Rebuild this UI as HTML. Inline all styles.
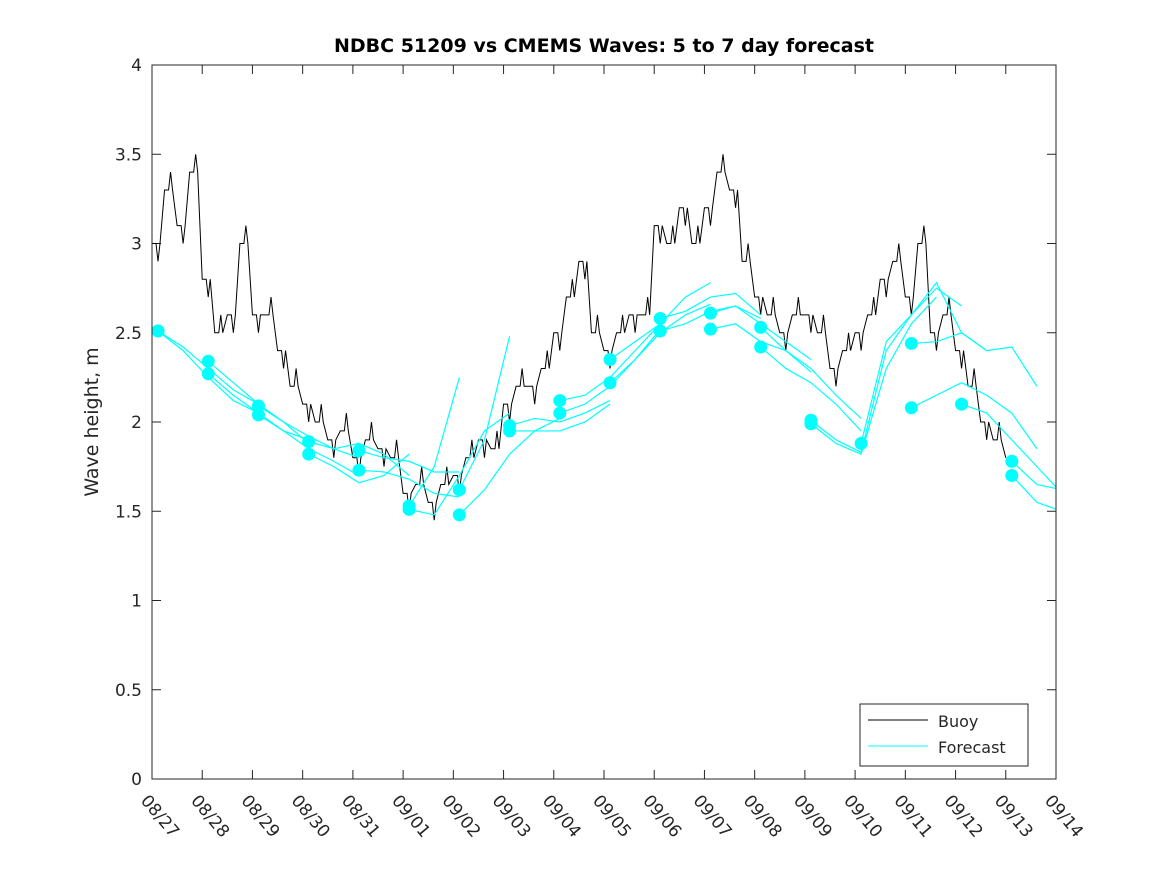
<!DOCTYPE html>
<html><head><meta charset="utf-8"><style>
body{margin:0;background:#fff;}
svg text{font-family:"DejaVu Sans","Liberation Sans",sans-serif;fill:#262626;}
</style></head><body>
<svg id="chart" width="1167" height="875" xmlns="http://www.w3.org/2000/svg">
<defs><clipPath id="plotclip"><rect x="152" y="65" width="904" height="714"/></clipPath></defs>
<rect width="1167" height="875" fill="#fff"/>
<text x="604" y="52" text-anchor="middle" font-size="19" font-weight="bold" style="fill:#000">NDBC 51209 vs CMEMS Waves: 5 to 7 day forecast</text>
<text transform="translate(98,422) rotate(-90)" text-anchor="middle" font-size="19">Wave height, m</text>
<g id="axes"></g>
<g id="series" clip-path="url(#plotclip)"></g>
<rect x="152" y="65" width="904" height="714" fill="none" stroke="#262626" stroke-width="1"/>
<g>
<rect x="860" y="704" width="168" height="62" fill="#fff" stroke="#262626" stroke-width="1"/>
<g><line x1="868" y1="720" x2="928" y2="720" stroke="#000"/><text x="938" y="727" font-size="16">Buoy</text></g>
<g><line x1="868" y1="746" x2="928" y2="746" stroke="#00ffff"/><text x="938" y="753" font-size="16">Forecast</text></g>
</g>
</svg>
<script>
const xTickLabels=["08/27","08/28","08/29","08/30","08/31","09/01","09/02","09/03","09/04","09/05","09/06","09/07","09/08","09/09","09/10","09/11","09/12","09/13","09/14"];
const yTicks=[0,0.5,1,1.5,2,2.5,3,3.5,4];
const yTickLabels=["0","0.5","1","1.5","2","2.5","3","3.5","4"];
// buoy, 6-hourly from 08/27 00:00
const buoyValues=[3.0,3.3,3.1,3.4, 2.8,2.5,2.6,3.0, 2.6,2.6,2.4,2.2, 2.1,2.0,1.9,1.95, 1.8,1.9,1.85,1.8,
 1.6,1.65,1.55,1.65, 1.7,1.8,1.9,1.85, 2.1,2.2,2.2,2.3, 2.5,2.7,2.9,2.5, 2.4,2.5,2.6,2.6,
 3.1,3.0,3.2,3.0, 3.2,3.4,3.3,2.9, 2.7,2.6,2.5,2.6, 2.6,2.5,2.3,2.4, 2.5,2.6,2.8,2.9,
 2.7,3.0,2.5,2.6, 2.4,2.2,2.0,1.9, 1.8];
const buoyStepDays=0.25;
// forecasts: start day, 12-hourly values
const forecastStarts=[0.12,0.12,1.12,1.12,2.12,2.12,3.12,3.12,4.12,4.12,5.12,5.12,6.12,6.12,7.12,7.12,8.12,8.12,9.12,9.12,10.12,10.12,11.12,11.12,12.12,12.12,13.12,13.12,14.12,15.12,15.12,16.12,17.12,17.12];
const forecastValues=[
[2.51,2.42,2.30,2.18,2.10],[2.51,2.40,2.25,2.12,2.05],
[2.34,2.22,2.10,2.00,1.88],[2.27,2.15,2.05,1.95,1.90],
[2.09,2.00,1.92,1.85,1.80],[2.04,1.95,1.85,1.78,1.70],
[1.89,1.85,1.88,1.82,1.70],[1.82,1.75,1.66,1.70,1.82],
[1.84,1.80,1.78,1.72,1.72],[1.73,1.72,1.68,1.60,1.58],
[1.53,1.75,2.25],[1.51,1.48,1.70,1.95,2.05],
[1.62,1.90,2.48],[1.48,1.62,1.82,1.95,2.02],
[1.98,2.02,2.00,2.05,2.12],[1.95,1.95,1.95,2.00,2.10],
[2.12,2.15,2.25,2.40,2.55],[2.05,2.10,2.20,2.35,2.52],
[2.35,2.45,2.55,2.70,2.78],[2.22,2.35,2.50,2.60,2.66],
[2.58,2.62,2.70,2.72,2.60],[2.51,2.55,2.62,2.65,2.58],
[2.61,2.65,2.55,2.45,2.35],[2.52,2.55,2.45,2.40,2.28],
[2.53,2.40,2.30,2.15,2.02],[2.42,2.30,2.22,2.10,1.95],
[2.01,1.90,1.83,2.40,2.60,2.75,2.65],
[1.99,1.88,1.82,2.30,2.55,2.70],
[1.88,2.45,2.60,2.78,2.50,2.40],
[2.44,2.45,2.50,2.40,2.42,2.20],
[2.08,2.15,2.22,2.15,2.05,1.85],
[2.10,2.05,1.90,1.75,1.60,1.58],
[1.78,1.65,1.62,1.63],
[1.70,1.55,1.50,1.46]];
const X0=152,X1=1056,Y0=779,Y1=65,NS="http://www.w3.org/2000/svg";
const xs=d=>X0+(X1-X0)*d/18;
const ys=v=>Y0-(Y0-Y1)*v/4;
const ax=document.getElementById('axes'),se=document.getElementById('series');
function mk(t,a,p){const e=document.createElementNS(NS,t);for(const k in a)e.setAttribute(k,a[k]);p.appendChild(e);return e;}
xTickLabels.forEach((l,i)=>{const x=xs(i);
 const t1=mk('line',{x1:x,y1:Y0,x2:x,y2:Y0-9,stroke:'#262626'},ax);
 
 
 mk('line',{x1:x,y1:Y1,x2:x,y2:Y1+9,stroke:'#262626'},ax);
 const tx=mk('text',{x:x-12,y:Y0+22,'font-size':17,transform:`rotate(50 ${x-12} ${Y0+22})`},ax);
 
 
 tx.textContent=l;});
yTicks.forEach((v,i)=>{const y=ys(v);
 const t1=mk('line',{x1:X0,y1:y,x2:X0+9,y2:y,stroke:'#262626'},ax);
 
 
 mk('line',{x1:X1,y1:y,x2:X1-9,y2:y,stroke:'#262626'},ax);
 const tx=mk('text',{x:X0-10,y:y+6,'font-size':17,'text-anchor':'end'},ax);
 
 
 tx.textContent=yTickLabels[i];});
let d='';buoyValues.forEach((v,i)=>{const x=xs(i*buoyStepDays);d+=(i?'L':'M')+x+','+ys(v);if(i<buoyValues.length-1){d+='L'+(x+4)+','+ys(v)+'L'+(x+6)+','+ys(v+((i%2)?0.1:-0.1))+'L'+(x+8)+','+ys(v);}});
const bl=mk('path',{d:d,fill:'none',stroke:'#000','stroke-width':1},se);


forecastValues.forEach((vals,j)=>{const s=forecastStarts[j];
 const pts=vals.map((v,k)=>xs(s+k*0.5)+','+ys(v)).join(' ');
 const pl=mk('polyline',{points:pts,fill:'none',stroke:'#00ffff','stroke-width':1.2},se);
 
 });
forecastValues.forEach((vals,j)=>{
 const c=mk('circle',{cx:xs(forecastStarts[j]),cy:ys(vals[0]),r:6.5,fill:'#00ffff'},se);
 
 });
</script>
</body></html>
